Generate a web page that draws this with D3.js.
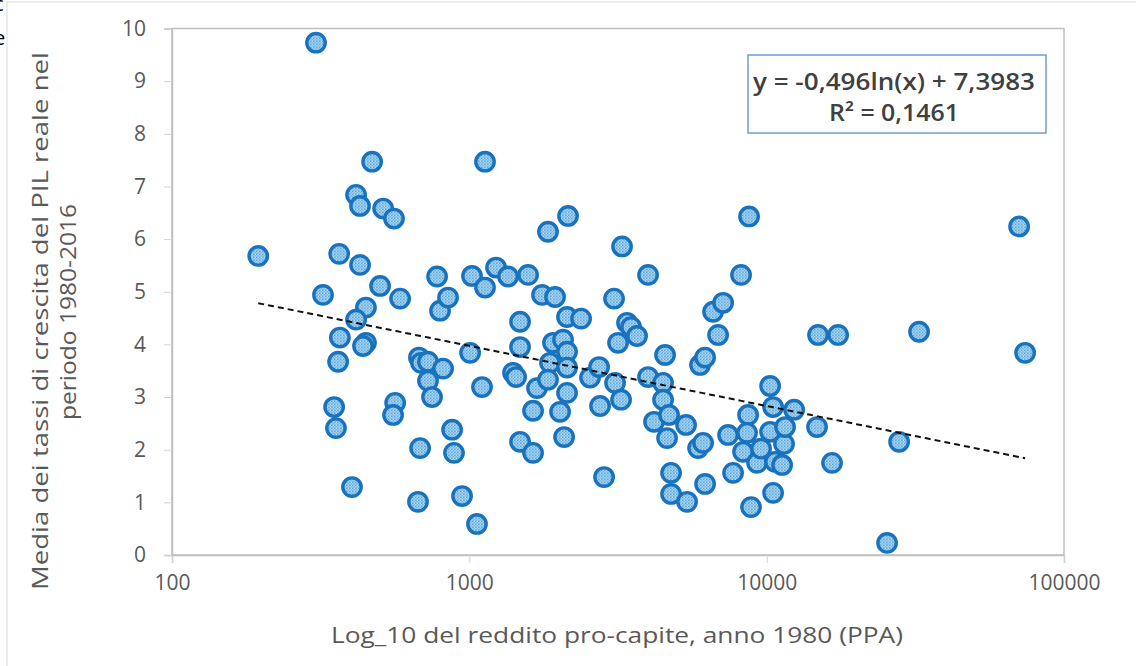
<!DOCTYPE html>
<html>
<head>
<meta charset="utf-8">
<script src="https://cdn.jsdelivr.net/npm/d3@7"></script>
<style>
  body { margin: 0; background: #fff; }
  svg { display: block; }
  text { font-family: "Open Sans", "Noto Sans", sans-serif; }
</style>
</head>
<body>
<div id="container"></div>
<script>
/* data: reddito pro-capite 1980 (PPA) e crescita media del PIL 1980-2016 */
var income = [195, 305, 471, 1129, 416, 429, 513, 558, 365, 429, 322, 501, 585, 779, 797, 848, 449, 416, 367, 449,
  439, 362, 351, 356, 403, 563, 554, 677, 688, 726, 816, 726, 749, 683, 672, 875, 888, 945, 1061, 1021,
  1129, 1006, 1103, 1230, 1350, 1576, 1481, 1481, 1403, 1436, 1481, 1638, 1638, 1689, 1756, 1942, 1839, 2148, 1912, 1868,
  1839, 2066, 2019, 2131, 2131, 2131, 2083, 2131, 2376, 2547, 2731, 2752, 2839, 3067, 3091, 3238, 3164, 3263, 3392, 3499,
  3665, 3991, 3991, 4181, 4553, 4483, 4483, 4624, 4696, 4770, 4770, 5357, 5399, 5880, 5970, 6207, 6112, 6207, 6603, 7137,
  6865, 7418, 7709, 8201, 8727, 8660, 8330, 8590, 8860, 9283, 9574, 10270, 10510, 10270, 10510, 10670, 11270, 11440, 11530, 12370,
  14770, 14890, 16590, 17390, 25410, 27890, 32550, 70630, 73990];
var growth = [5.68, 9.73, 7.47, 7.47, 6.84, 6.63, 6.58, 6.39, 5.72, 5.51, 4.94, 5.11, 4.87, 5.29, 4.64, 4.89, 4.70, 4.47, 4.13, 4.03,
  3.97, 3.67, 2.81, 2.41, 1.29, 2.89, 2.66, 3.75, 3.65, 3.67, 3.54, 3.31, 3.00, 2.03, 1.01, 2.38, 1.94, 1.12, 0.59, 5.30,
  5.08, 3.84, 3.19, 5.46, 5.29, 5.32, 4.43, 3.95, 3.46, 3.38, 2.15, 1.94, 2.74, 3.17, 4.94, 4.90, 6.14, 6.44, 4.03, 3.65,
  3.33, 4.09, 2.72, 3.86, 3.56, 3.08, 2.24, 4.52, 4.49, 3.37, 3.57, 2.83, 1.48, 4.87, 3.27, 2.95, 4.03, 5.86, 4.41, 4.33,
  4.16, 5.32, 3.38, 2.53, 3.80, 3.27, 2.95, 2.22, 2.66, 1.56, 1.16, 2.47, 1.01, 2.03, 3.61, 3.75, 2.13, 1.35, 4.62, 4.79,
  4.18, 2.28, 1.56, 5.32, 6.43, 2.66, 1.96, 2.32, 0.91, 1.75, 2.02, 3.21, 2.81, 2.34, 1.18, 1.77, 1.71, 2.11, 2.43, 2.76,
  2.43, 4.18, 1.75, 4.18, 0.23, 2.15, 4.24, 6.24, 3.84];

var xTicks = [100, 1000, 10000, 100000];
var yTicks = [0, 1, 2, 3, 4, 5, 6, 7, 8, 9, 10];

/* trendline from the chart: y = -0,496 ln(x) + 7,3983 */
var trendA = -0.496, trendB = 7.3983;
var trendLabel = ["y = -0,496ln(x) + 7,3983", "R² = 0,1461"];

var w = 1136, h = 666;
var margin = {left: 172, right: 72, top: 28.5, bottom: 111};
var plotW = w - margin.left - margin.right,
	plotH = h - margin.top - margin.bottom;

var svg = d3.select('#container').append('svg')
	.attr('width', w)
	.attr('height', h);

/* chart frame and the text cut off at the left edge */
svg.append('rect')
	.attr('x', 7).attr('y', 2)
	.attr('width', w + 20).attr('height', h + 20)
	.attr('fill', 'none')
	.attr('stroke', '#d9d9d9');
svg.append('text').attr('x', -6).attr('y', 11).style('font-size', '20px').text('c');
svg.append('text').attr('x', -6).attr('y', 45).style('font-size', '20px').text('e');

/* marker fill pattern */
var pat = svg.append('defs').append('pattern')
	.attr('id', 'dots')
	.attr('width', 3).attr('height', 3)
	.attr('patternUnits', 'userSpaceOnUse');
pat.append('rect').attr('width', 3).attr('height', 3).attr('fill', '#cfe8f8');
pat.append('rect').attr('width', 1.6).attr('height', 1.6).attr('fill', '#3b95d8');
pat.append('rect').attr('x', 1.5).attr('y', 1.5).attr('width', 1.5).attr('height', 1.5).attr('fill', '#5eaae2');

var g = svg.append('g')
	.attr('transform', 'translate(' + margin.left + ',' + margin.top + ')');

var xScale = d3.scaleLog().domain([100, 100000]).range([0, plotW]),
	yScale = d3.scaleLinear().domain([0, 10]).range([plotH, 0]);

/* plot area box */
g.append('rect')
	.attr('width', plotW).attr('height', plotH)
	.attr('fill', 'none')
	.attr('stroke', '#bfbfbf')
	.attr('stroke-width', 1.5);

/* X-Axis */
var xAxis = d3.axisBottom(xScale).tickValues(xTicks).tickFormat(d3.format('d')).tickSize(8).tickPadding(12);
g.append('g')
	.classed('xaxis', true)
	.attr('transform', 'translate(0,' + plotH + ')')
	.call(xAxis);

/* Y-Axis */
var yAxis = d3.axisLeft(yScale).tickValues(yTicks).tickSize(8).tickPadding(18);
g.append('g')
	.classed('yaxis', true)
	.call(yAxis);

g.selectAll('.xaxis path, .yaxis path').attr('stroke', '#bfbfbf').attr('stroke-width', 1.5);
g.selectAll('.tick line').attr('stroke', '#d0d0d0');
g.selectAll('.tick text')
	.attr('fill', '#595959')
	.style('font-size', '21px')
	.style('font-family', '"Open Sans", sans-serif');

/* points */
var points = income.map(function(d, i) { return {x: d, y: growth[i]}; });
g.selectAll('.points')
	.data(points)
	.enter().append('circle')
	.classed('points', true)
	.attr('cx', d => xScale(d.x))
	.attr('cy', d => yScale(d.y))
	.attr('r', 9.2)
	.attr('fill', 'url(#dots)')
	.attr('stroke', '#1872bd')
	.attr('stroke-width', 3.4);

/* trendline over the data range */
var xMin = d3.min(income), xMax = d3.max(income);
var trendData = d3.range(0, 101).map(function(i) {
	var x = Math.exp(Math.log(xMin) + i / 100 * (Math.log(xMax) - Math.log(xMin)));
	return {x: x, y: trendA * Math.log(x) + trendB};
});
var trendLine = d3.line()
	.x(d => xScale(d.x))
	.y(d => yScale(d.y));
g.append('path')
	.attr('d', trendLine(trendData))
	.attr('fill', 'none')
	.attr('stroke', '#111')
	.attr('stroke-width', 2)
	.attr('stroke-dasharray', '6,4');

/* equation box */
svg.append('rect')
	.attr('x', 748).attr('y', 55)
	.attr('width', 298).attr('height', 78)
	.attr('fill', '#fff')
	.attr('stroke', '#6f9fca')
	.attr('stroke-width', 1.5);
svg.selectAll('.eq')
	.data(trendLabel)
	.enter().append('text')
	.classed('eq', true)
	.attr('x', 894)
	.attr('y', (d, i) => 90 + i * 31)
	.attr('text-anchor', 'middle')
	.attr('fill', '#404040')
	.style('font-size', '23px')
	.style('font-weight', 600)
	.attr('textLength', (d, i) => i === 0 ? 282 : 130)
	.attr('lengthAdjust', 'spacingAndGlyphs')
	.text(d => d);

/* axis titles */
svg.append('text')
	.attr('x', margin.left + plotW / 2 - 1)
	.attr('y', 643)
	.attr('text-anchor', 'middle')
	.attr('fill', '#595959')
	.style('font-size', '22px')
	.attr('textLength', 572)
	.attr('lengthAdjust', 'spacingAndGlyphs')
	.text('Log_10 del reddito pro-capite, anno 1980 (PPA)');

var yTitle = svg.append('g').attr('transform', 'translate(48,321) rotate(-90)');
yTitle.append('text')
	.attr('text-anchor', 'middle')
	.attr('fill', '#595959')
	.style('font-size', '22px')
	.attr('textLength', 538)
	.attr('lengthAdjust', 'spacingAndGlyphs')
	.text('Media dei tassi di crescita  del PIL reale nel');
yTitle.append('text')
	.attr('x', 9)
	.attr('y', 28)
	.attr('text-anchor', 'middle')
	.attr('fill', '#595959')
	.style('font-size', '22px')
	.attr('textLength', 216)
	.attr('lengthAdjust', 'spacingAndGlyphs')
	.text('periodo 1980-2016');
</script>
</body>
</html>
